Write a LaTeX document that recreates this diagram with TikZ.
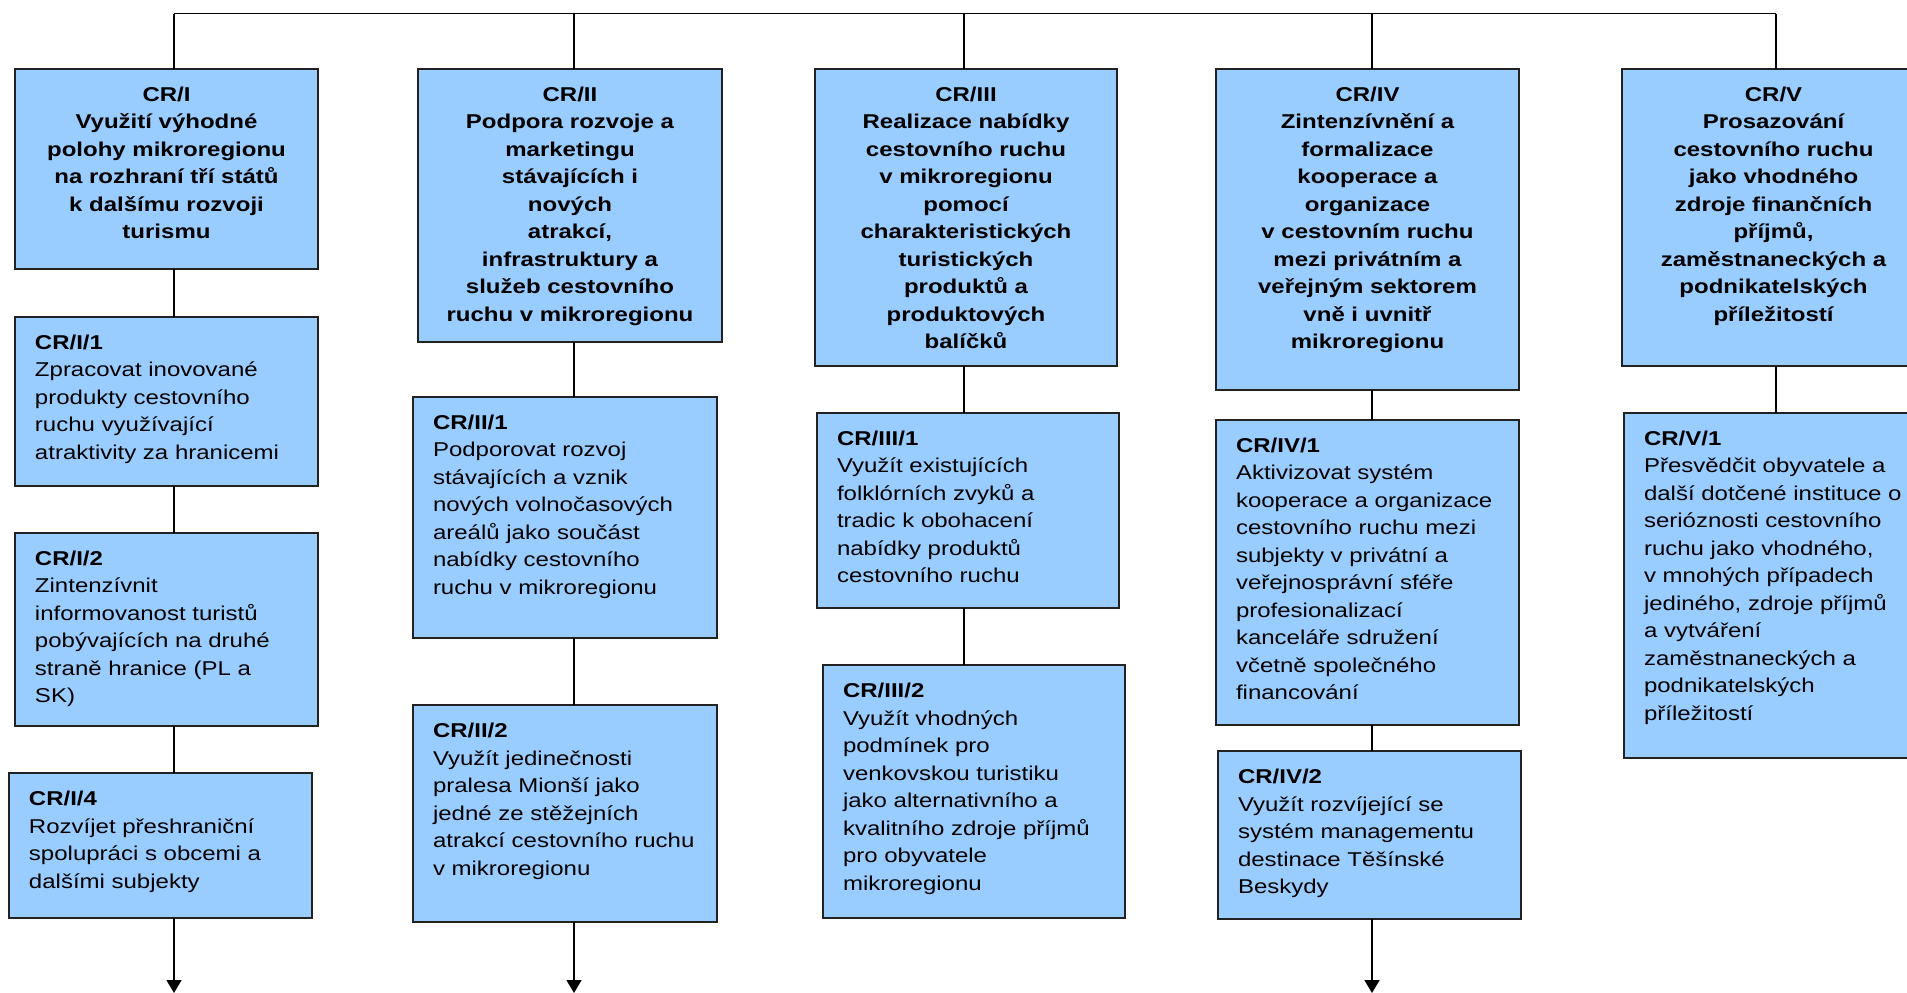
\documentclass[tikz,border=0pt]{standalone}
\usepackage{fontspec}
\setmainfont{Liberation Sans}[FakeStretch=1.2]
\usetikzlibrary{arrows.meta}
\definecolor{boxblue}{HTML}{99CCFF}
\definecolor{edgegray}{HTML}{222222}
\newcommand\TitleBox[6]{%
  \node[bx] (#1) at (#2,#3) {\parbox[c][#5pt][t]{#4pt}{\vspace*{18pt}\centering\bfseries #6\par}};}
\newcommand\SubBox[7]{%
  \node[bx] (#1) at (#2,#3) {\parbox[c][#5pt][t]{#4pt}{\vspace*{18pt}\raggedright\leftskip=20pt\textbf{#6}\\#7\par}};}
\begin{document}
\begin{tikzpicture}[x=1pt,y=-1pt,
  bx/.style={draw=edgegray, line width=1.4pt, fill=boxblue, inner sep=0pt, outer sep=0pt,
    anchor=north west, font=\fontsize{20}{27.5}\selectfont},
  link/.style={draw=black, line width=1.4pt},
  arr/.style={link, -{Triangle[width=15pt,length=13pt]}}]
\useasboundingbox (0,0) rectangle (1907,993);
% column coordinates
\coordinate (t1) at (174,13.5);
\coordinate (t2) at (574,13.5);
\coordinate (t3) at (964,13.5);
\coordinate (t4) at (1372,13.5);
\coordinate (t5) at (1776,13.5);
\coordinate (e1) at (174,993);
\coordinate (e2) at (574,993);
\coordinate (e4) at (1372,993);

% column I
\TitleBox{cI}{15}{69}{303}{200}{CR/I\\Využití výhodné\\polohy mikroregionu\\na rozhraní tří států\\k dalšímu rozvoji\\turismu}
\SubBox{cI1}{15}{317}{303}{169}{CR/I/1}{Zpracovat inovované\\produkty cestovního\\ruchu využívající\\atraktivity za hranicemi}
\SubBox{cI2}{15}{533}{303}{193}{CR/I/2}{Zintenzívnit\\informovanost turistů\\pobývajících na druhé\\straně hranice (PL a\\SK)}
\SubBox{cI4}{9}{773}{303}{145}{CR/I/4}{Rozvíjet přeshraniční\\spolupráci s obcemi a\\dalšími subjekty}

% column II
\TitleBox{cII}{418}{69}{304}{273}{CR/II\\Podpora rozvoje a\\marketingu\\stávajících i\\nových\\atrakcí,\\infrastruktury a\\služeb cestovního\\ruchu v mikroregionu}
\SubBox{cII1}{413}{397}{304}{241}{CR/II/1}{Podporovat rozvoj\\stávajících a vznik\\nových volnočasových\\areálů jako součást\\nabídky cestovního\\ruchu v mikroregionu}
\SubBox{cII2}{413}{705}{304}{217}{CR/II/2}{Využít jedinečnosti\\pralesa Mionší jako\\jedné ze stěžejních\\atrakcí cestovního ruchu\\v mikroregionu}

% column III
\TitleBox{cIII}{815}{69}{302}{297}{CR/III\\Realizace nabídky\\cestovního ruchu\\v mikroregionu\\pomocí\\charakteristických\\turistických\\produktů a\\produktových\\balíčků}
\SubBox{cIII1}{817}{413}{302}{195}{CR/III/1}{Využít existujících\\folklórních zvyků a\\tradic k obohacení\\nabídky produktů\\cestovního ruchu}
\SubBox{cIII2}{823}{665}{302}{253}{CR/III/2}{Využít vhodných\\podmínek pro\\venkovskou turistiku\\jako alternativního a\\kvalitního zdroje příjmů\\pro obyvatele\\mikroregionu}

% column IV
\TitleBox{cIV}{1216}{69}{303}{321}{CR/IV\\Zintenzívnění a\\formalizace\\kooperace a\\organizace\\v cestovním ruchu\\mezi privátním a\\veřejným sektorem\\vně i uvnitř\\mikroregionu}
\SubBox{cIV1}{1216}{420}{303}{305}{CR/IV/1}{Aktivizovat systém\\kooperace a organizace\\cestovního ruchu mezi\\subjekty v privátní a\\veřejnosprávní sféře\\profesionalizací\\kanceláře sdružení\\včetně společného\\financování}
\SubBox{cIV2}{1218}{751}{303}{168}{CR/IV/2}{Využít rozvíjející se\\systém managementu\\destinace Těšínské\\Beskydy}

% column V
\TitleBox{cV}{1622}{69}{303}{297}{CR/V\\Prosazování\\cestovního ruchu\\jako vhodného\\zdroje finančních\\příjmů,\\zaměstnaneckých a\\podnikatelských\\příležitostí}
\SubBox{cV1}{1624}{413}{303}{345}{CR/V/1}{Přesvědčit obyvatele a\\další dotčené instituce o\\serióznosti cestovního\\ruchu jako vhodného,\\v mnohých případech\\jediného, zdroje příjmů\\a vytváření\\zaměstnaneckých a\\podnikatelských\\příležitostí}

% connectors
\draw[link] (t1) -- (t5);
\draw[link] (t1) -- (t1 |- cI.north);
\draw[link] (t2) -- (t2 |- cII.north);
\draw[link] (t3) -- (t3 |- cIII.north);
\draw[link] (t4) -- (t4 |- cIV.north);
\draw[link] (t5) -- (t5 |- cV.north);

\draw[link] (cI.south -| t1) -- (cI1.north -| t1);
\draw[link] (cI1.south -| t1) -- (cI2.north -| t1);
\draw[link] (cI2.south -| t1) -- (cI4.north -| t1);
\draw[arr] (cI4.south -| t1) -- (e1);

\draw[link] (cII.south -| t2) -- (cII1.north -| t2);
\draw[link] (cII1.south -| t2) -- (cII2.north -| t2);
\draw[arr] (cII2.south -| t2) -- (e2);

\draw[link] (cIII.south -| t3) -- (cIII1.north -| t3);
\draw[link] (cIII1.south -| t3) -- (cIII2.north -| t3);

\draw[link] (cIV.south -| t4) -- (cIV1.north -| t4);
\draw[link] (cIV1.south -| t4) -- (cIV2.north -| t4);
\draw[arr] (cIV2.south -| t4) -- (e4);

\draw[link] (cV.south -| t5) -- (cV1.north -| t5);
\end{tikzpicture}
\end{document}
